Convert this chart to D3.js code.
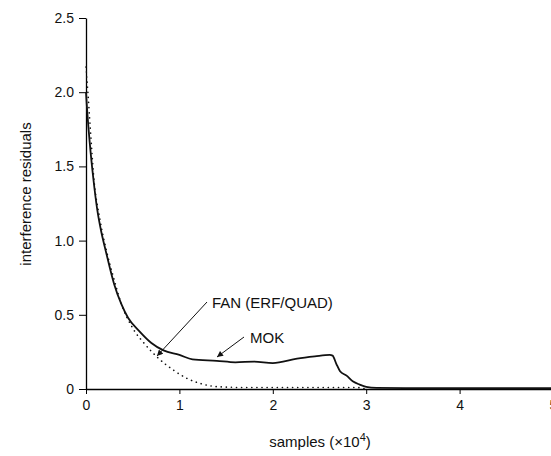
<!DOCTYPE html>
<html>
<head>
<meta charset="utf-8">
<script src="https://cdn.jsdelivr.net/npm/d3@7"></script>
<style>
  body { margin: 0; background: #fff; }
  svg { display: block; }
</style>
</head>
<body>
<div id="chart"></div>
<script>
// MOK curve (solid)
const mokX = [0, 0.01, 0.04, 0.08, 0.12, 0.16, 0.2, 0.25, 0.3, 0.38, 0.45, 0.57, 0.7, 0.83, 1.0, 1.14, 1.4, 1.6, 1.8, 2.0, 2.26, 2.45, 2.61, 2.64, 2.68, 2.72, 2.79, 2.86, 2.93, 3.0, 3.11, 3.5, 4.0, 4.5, 5.0];
const mokY = [2.0, 1.9, 1.66, 1.41, 1.21, 1.07, 0.96, 0.83, 0.71, 0.57, 0.48, 0.39, 0.31, 0.26, 0.23, 0.2, 0.19, 0.18, 0.185, 0.175, 0.205, 0.22, 0.23, 0.225, 0.17, 0.12, 0.09, 0.05, 0.03, 0.015, 0.008, 0.006, 0.005, 0.005, 0.005];
// FAN (ERF/QUAD) curve (dotted)
const fanX = [0, 0.02, 0.05, 0.08, 0.15, 0.22, 0.3, 0.375, 0.51, 0.62, 0.77, 0.93, 1.07, 1.21, 1.42, 1.7, 2.5, 2.9, 3.0];
const fanY = [2.17, 2.0, 1.72, 1.45, 1.14, 0.93, 0.74, 0.58, 0.40, 0.31, 0.21, 0.13, 0.075, 0.04, 0.015, 0.01, 0.01, 0.01, 0.0];
const xTicks = [0, 1, 2, 3, 4, 5];
const yTicks = [0, 0.5, 1.0, 1.5, 2.0, 2.5];
const yTickLabels = ["0", "0.5", "1.0", "1.5", "2.0", "2.5"];

const w = 551, h = 456;
const margin = {top: 18, right: 0, bottom: 67, left: 86};

const svg = d3.select("#chart")
    .append("svg")
    .attr("width", w)
    .attr("height", h);

const xScale = d3.scaleLinear().domain([0, 5]).range([margin.left, 553]);
const yScale = d3.scaleLinear().domain([0, 2.5]).range([h - margin.bottom, margin.top]);

// x axis
const xAxis = svg.append("g")
    .attr("transform", "translate(0," + yScale(0) + ")")
    .call(d3.axisBottom(xScale).tickValues(xTicks).tickFormat(d3.format("d")).tickSize(5).tickSizeOuter(0).tickPadding(6));
xAxis.select(".domain").attr("stroke-width", 1.3);
xAxis.selectAll("text")
    .attr("font-family", "Liberation Sans, Arial, sans-serif")
    .attr("font-size", "14px")
    .attr("fill", "#111");

// y axis
const yAxis = svg.append("g")
    .attr("transform", "translate(" + xScale(0) + ",0)")
    .call(d3.axisLeft(yScale).tickValues(yTicks).tickFormat((d, i) => yTickLabels[i]).tickSize(7).tickSizeOuter(0).tickPadding(5));
yAxis.select(".domain").attr("stroke-width", 1.3);
yAxis.selectAll("text")
    .attr("font-family", "Liberation Sans, Arial, sans-serif")
    .attr("font-size", "14px")
    .attr("fill", "#111");

// curves
const line = d3.line()
    .x(d => xScale(d[0]))
    .y(d => yScale(d[1]))
    .curve(d3.curveMonotoneX);

svg.append("path")
    .datum(fanX.map((x, i) => [x, fanY[i]]))
    .attr("fill", "none")
    .attr("stroke", "#111")
    .attr("stroke-width", 1.6)
    .attr("stroke-linecap", "round")
    .attr("stroke-dasharray", "0.1,5")
    .attr("d", line);

svg.append("path")
    .datum(mokX.map((x, i) => [x, mokY[i]]))
    .attr("fill", "none")
    .attr("stroke", "#111")
    .attr("stroke-width", 1.8)
    .attr("d", line);

// arrowhead marker
svg.append("defs").append("marker")
    .attr("id", "arrow")
    .attr("viewBox", "0 0 10 10")
    .attr("refX", 10)
    .attr("refY", 5)
    .attr("markerWidth", 8)
    .attr("markerHeight", 6)
    .attr("markerUnits", "userSpaceOnUse")
    .attr("orient", "auto")
    .append("path")
    .attr("d", "M0,0 L10,5 L0,10 Z")
    .attr("fill", "#111");

// annotations
svg.append("line")
    .attr("x1", 207).attr("y1", 302)
    .attr("x2", 157).attr("y2", 356)
    .attr("stroke", "#111")
    .attr("stroke-width", 1)
    .attr("marker-end", "url(#arrow)");
svg.append("line")
    .attr("x1", 244).attr("y1", 337)
    .attr("x2", 217).attr("y2", 357)
    .attr("stroke", "#111")
    .attr("stroke-width", 1)
    .attr("marker-end", "url(#arrow)");

svg.append("text")
    .attr("x", 212)
    .attr("y", 308)
    .attr("font-family", "Liberation Sans, Arial, sans-serif")
    .attr("font-size", "15px")
    .attr("fill", "#111")
    .text("FAN (ERF/QUAD)");
svg.append("text")
    .attr("x", 250)
    .attr("y", 343)
    .attr("font-family", "Liberation Sans, Arial, sans-serif")
    .attr("font-size", "15px")
    .attr("fill", "#111")
    .text("MOK");

// axis titles
const xTitle = svg.append("text")
    .attr("text-anchor", "middle")
    .attr("x", 320)
    .attr("y", 447)
    .attr("font-family", "Liberation Sans, Arial, sans-serif")
    .attr("font-size", "15px")
    .attr("fill", "#111");
xTitle.append("tspan").text("samples (\u00d710");
xTitle.append("tspan").attr("dy", -6).attr("font-size", "11px").text("4");
xTitle.append("tspan").attr("dy", 6).text(")");

svg.append("text")
    .attr("text-anchor", "middle")
    .attr("transform", "translate(31,194) rotate(-90)")
    .attr("font-family", "Liberation Sans, Arial, sans-serif")
    .attr("font-size", "15px")
    .attr("fill", "#111")
    .text("interference residuals");
</script>
</body>
</html>
